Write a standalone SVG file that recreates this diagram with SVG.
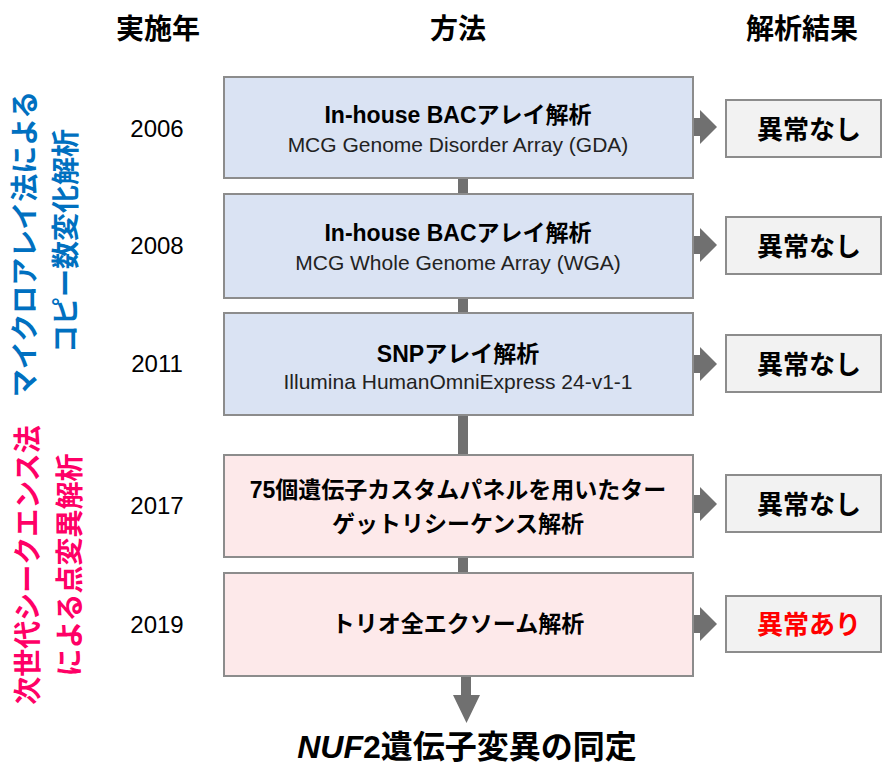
<svg xmlns="http://www.w3.org/2000/svg" width="883" height="767" viewBox="0 0 883 767">
<style>
text{font-family:"Liberation Sans","Noto Sans CJK JP",sans-serif;fill:#000}
.hdr{font-size:28px;font-weight:bold;text-anchor:middle}
.yr{font-size:24px;text-anchor:middle}
.ttl{font-size:23px;font-weight:bold;text-anchor:middle}
.sub{font-size:21px;text-anchor:middle;fill:#222}
.res{font-size:26px;font-weight:bold;text-anchor:middle}
.side{font-size:28px;font-weight:bold;text-anchor:middle;dominant-baseline:central}
.blue{fill:#0070C0}
.pink{fill:#FF0066}
.mbox{stroke:#8c8c8c;stroke-width:2}
.b{fill:#dae3f3}
.p{fill:#fde9ea}
.rbox{fill:#f2f2f2;stroke:#8c8c8c;stroke-width:2}
.arr{fill:#707070}
</style>
<defs>
<path id="ra" d="M0,-9 H12 V-17 L29,0 L12,17 V9 H0 Z"/>
</defs>

<g id="headers">
<text class="hdr" x="158" y="39">実施年</text>
<text class="hdr" x="458" y="39">方法</text>
<text class="hdr" x="802" y="39">解析結果</text>
</g>

<g id="side-labels">
<text class="side blue" transform="translate(25,244) rotate(-90)">マイクロアレイ法による</text>
<text class="side blue" transform="translate(66,241) rotate(-90)">コピー数変化解析</text>
<text class="side pink" transform="translate(28,565) rotate(-90)">次世代シークエンス法</text>
<text class="side pink" transform="translate(70,565) rotate(-90)">による点変異解析</text>
</g>

<g id="connectors">
<rect class="arr" x="458" y="177" width="10" height="17"/>
<rect class="arr" x="458" y="297" width="10" height="17"/>
<rect class="arr" x="458" y="414" width="10" height="42"/>
<rect class="arr" x="458" y="556" width="10" height="18"/>
<path class="arr" d="M461,675 H471 V695 H480 L466.5,723 L453,695 H461 Z"/>
<use href="#ra" class="arr" x="688" y="127"/>
<use href="#ra" class="arr" x="688" y="245"/>
<use href="#ra" class="arr" x="688" y="364"/>
<use href="#ra" class="arr" x="688" y="504"/>
<use href="#ra" class="arr" x="688" y="624"/>
</g>

<g id="row2006">
<text class="yr" x="157" y="137">2006</text>
<rect class="mbox b" x="224" y="77" width="469" height="101"/>
<text class="ttl" x="458" y="123">In-house BACアレイ解析</text>
<text class="sub" x="458" y="152">MCG Genome Disorder Array (GDA)</text>
<rect class="rbox" x="726" y="100" width="155" height="57"/>
<text class="res" x="809" y="139">異常なし</text>
</g>

<g id="row2008">
<text class="yr" x="157" y="254">2008</text>
<rect class="mbox b" x="224" y="194" width="469" height="104"/>
<text class="ttl" x="458" y="241">In-house BACアレイ解析</text>
<text class="sub" x="458" y="270">MCG Whole Genome Array (WGA)</text>
<rect class="rbox" x="726" y="217" width="155" height="57"/>
<text class="res" x="809" y="256">異常なし</text>
</g>

<g id="row2011">
<text class="yr" x="157" y="372">2011</text>
<rect class="mbox b" x="224" y="313" width="469" height="102"/>
<text class="ttl" x="458" y="362">SNPアレイ解析</text>
<text class="sub" x="458" y="389">Illumina HumanOmniExpress 24-v1-1</text>
<rect class="rbox" x="726" y="335" width="155" height="57"/>
<text class="res" x="809" y="374">異常なし</text>
</g>

<g id="row2017">
<text class="yr" x="157" y="514">2017</text>
<rect class="mbox p" x="224" y="455" width="469" height="102"/>
<text class="ttl" x="458" y="498">75個遺伝子カスタムパネルを用いたター</text>
<text class="ttl" x="458" y="532">ゲットリシーケンス解析</text>
<rect class="rbox" x="726" y="475" width="155" height="57"/>
<text class="res" x="809" y="514">異常なし</text>
</g>

<g id="row2019">
<text class="yr" x="157" y="633">2019</text>
<rect class="mbox p" x="224" y="573" width="469" height="103"/>
<text class="ttl" x="458" y="632">トリオ全エクソーム解析</text>
<rect class="rbox" x="726" y="596" width="155" height="56"/>
<text class="res" x="809" y="634" style="fill:#FF0000">異常あり</text>
</g>

<g id="result">
<text x="467" y="758" style="font-size:32px;font-weight:bold;text-anchor:middle"><tspan font-style="italic">NUF</tspan>2遺伝子変異の同定</text>
</g>
</svg>
